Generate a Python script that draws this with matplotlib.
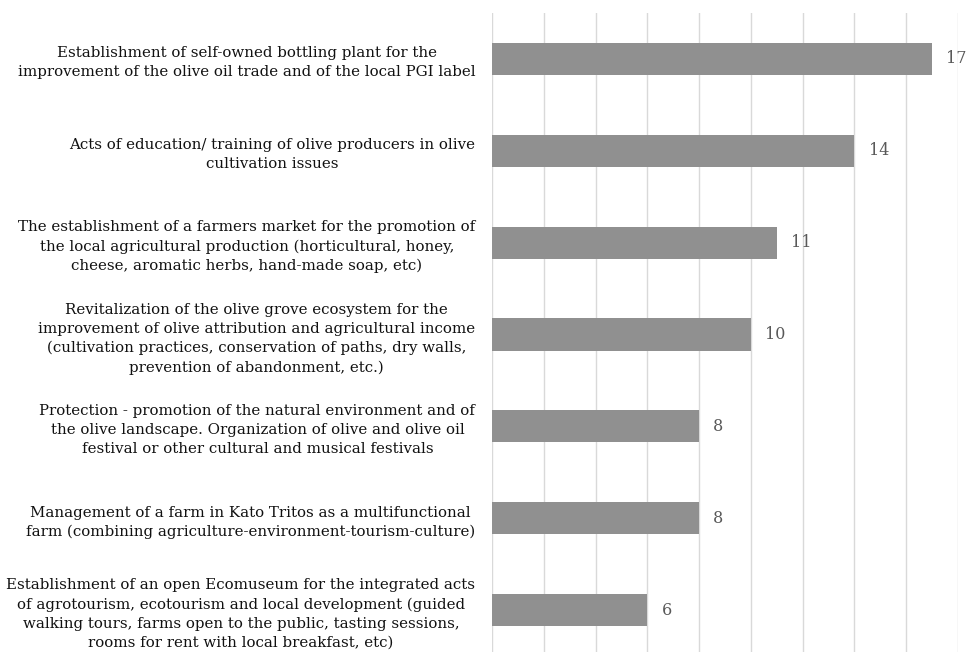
import matplotlib.pyplot as plt

# Categories, top to bottom as in the chart
actions = [
    "Establishment of self-owned bottling plant for the\n"
    "improvement of the olive oil trade and of the local PGI label",
    "Acts of education/ training of olive producers in olive\n"
    "cultivation issues",
    "The establishment of a farmers market for the promotion of\n"
    "the local agricultural production (horticultural, honey,\n"
    "cheese, aromatic herbs, hand-made soap, etc)",
    "Revitalization of the olive grove ecosystem for the\n"
    "improvement of olive attribution and agricultural income\n"
    "(cultivation practices, conservation of paths, dry walls,\n"
    "prevention of abandonment, etc.)",
    "Protection - promotion of the natural environment and of\n"
    "the olive landscape. Organization of olive and olive oil\n"
    "festival or other cultural and musical festivals",
    "Management of a farm in Kato Tritos as a multifunctional\n"
    "farm (combining agriculture-environment-tourism-culture)",
    "Establishment of an open Ecomuseum for the integrated acts\n"
    "of agrotourism, ecotourism and local development (guided\n"
    "walking tours, farms open to the public, tasting sessions,\n"
    "rooms for rent with local breakfast, etc)",
]
votes = [17, 14, 11, 10, 8, 8, 6]

plt.rcParams['font.family'] = ['DejaVu Serif']

fig = plt.figure(figsize=(9.68, 6.52), dpi=100)
ax = fig.add_axes([492 / 968, -4 / 652, (958 - 492) / 968, (652 - 13 + 4) / 652])

pos = list(range(len(actions)))
ax.barh(pos, votes, height=0.35, color="#909090", zorder=2)

for y, v in zip(pos, votes):
    ax.text(v + 0.55, y, str(v), va="center", ha="left",
            fontsize=11.5, color="#595959")

ax.set_xlim(0, 18)
ax.set_ylim(len(actions) - 0.5, -0.5)
ax.set_xticks(range(0, 19, 2))
ax.xaxis.grid(True, color="#d9d9d9", linewidth=1)
ax.set_axisbelow(True)
ax.tick_params(axis="x", length=0, labelbottom=False)
ax.tick_params(axis="y", length=0, pad=12)

ax.set_yticks(pos)
ax.set_yticklabels(actions, fontsize=10.8, color="#111111",
                   multialignment="center", linespacing=1.45)

for s in ax.spines.values():
    s.set_visible(False)

fig.savefig("out.png", dpi=100)
